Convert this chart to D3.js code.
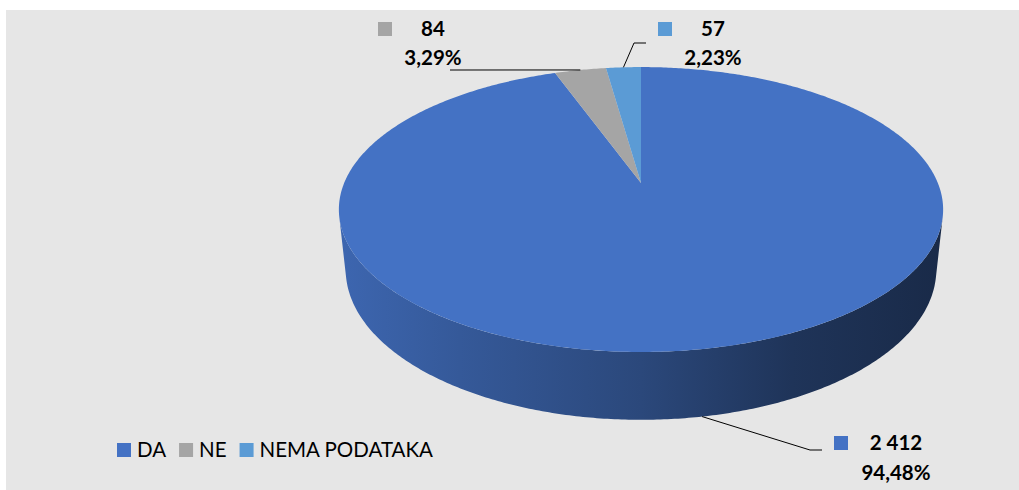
<!DOCTYPE html>
<html>
<head>
<meta charset="utf-8">
<script src="https://cdn.jsdelivr.net/npm/d3@7"></script>
<style>
  body { margin: 0; background: #fff; }
  svg { display: block; }
  text { font-family: Lato, "Open Sans", sans-serif; fill: #000; }
</style>
</head>
<body>
<div id="chart"></div>
<script>
//////////////////////////////
// DATA
//////////////////////////////

const categories = ["DA", "NE", "NEMA PODATAKA"]
const values = [2412, 84, 57]
const colors = ["#4472c4", "#a5a5a5", "#5b9bd5"]

//////////////////////////////
// LAYOUT
//////////////////////////////

const width = 1019
const height = 490

// 3D view of the pie (Excel style, with perspective)
const cx = 641, cy = 183
const focal = 1413, dist = 4.76, depth = 0.23
const tilt = 27.6 * Math.PI / 180

// label boxes, in data order
const labelLayout = [
	{ mid: 896, key: 834, y1: 450, y2: 480, bend: [[810, 450], [822, 450]] },
	{ mid: 433, key: 378, y1: 36, y2: 65, bend: [[450, 70]] },
	{ mid: 713, key: 658, y1: 36, y2: 65, bend: [[634, 43], [646, 43]] }
]

const svg = d3.select("#chart").append("svg")
	.attr("width", width).attr("height", height)

svg.append("rect")
	.attr("x", 6).attr("y", 10)
	.attr("width", width - 6).attr("height", height - 10)
	.attr("fill", "#e6e6e6")

// point on the pie: angle a (clockwise from 12 o'clock), radius r, level y (0 = top, -depth = bottom)
const project = (a, y, r = 1) => {
	let x = r * Math.sin(a), z = r * Math.cos(a)
	let v = y * Math.cos(tilt) + z * Math.sin(tilt)
	let w = dist + z * Math.cos(tilt) - y * Math.sin(tilt)
	return [cx + focal * x / w, cy - focal * v / w]
}

const arcPoints = (a0, a1, y) => {
	let n = Math.max(2, Math.ceil((a1 - a0) / 0.01))
	return d3.range(n + 1).map((i) => project(a0 + (a1 - a0) * i / n, y))
}

const line = d3.line()

const pie = d3.pie().sort(null).value((d) => d)(values)
const total = d3.sum(values)

// side wall is seen between the two tangent lines from the camera
const edge = Math.acos(-1 / (dist * Math.cos(tilt)))
const frontFrom = edge, frontTo = 2 * Math.PI - edge

const leftX = d3.min(arcPoints(0, 2 * Math.PI, 0), (p) => p[0])
const rightX = d3.max(arcPoints(0, 2 * Math.PI, 0), (p) => p[0])

const defs = svg.append("defs")
const shade = [[0, 0.3], [0.2, 0.7], [0.5, 1.3], [0.75, 2.2], [1, 2.8]]

pie.forEach((d, i) => {
	let g = defs.append("linearGradient")
		.attr("id", "side" + i)
		.attr("gradientUnits", "userSpaceOnUse")
		.attr("x1", leftX).attr("x2", rightX)
		.attr("y1", 0).attr("y2", 0)
	shade.forEach((s) => {
		g.append("stop")
			.attr("offset", s[0])
			.attr("stop-color", d3.color(colors[i]).darker(s[1]))
	})
})

// side walls
pie.forEach((d, i) => {
	let a0 = Math.max(d.startAngle, frontFrom)
	let a1 = Math.min(d.endAngle, frontTo)
	if (a1 <= a0) return
	let pts = arcPoints(a0, a1, 0).concat(arcPoints(a0, a1, -depth).reverse())
	svg.append("path")
		.attr("d", line(pts) + "Z")
		.attr("fill", "url(#side" + i + ")")
})

// top faces
const centre = project(0, 0, 0)
pie.forEach((d, i) => {
	let pts = [centre].concat(arcPoints(d.startAngle, d.endAngle, 0))
	svg.append("path")
		.attr("d", line(pts) + "Z")
		.attr("fill", colors[i])
})

//////////////////////////////
// DATA LABELS
//////////////////////////////

const fmtValue = d3.formatLocale({ decimal: ",", thousands: " ", grouping: [3], currency: ["", ""] }).format(",d")
const fmtPct = d3.formatLocale({ decimal: ",", thousands: ".", grouping: [3], currency: ["", ""] }).format(".2%")

pie.forEach((d, i) => {
	let L = labelLayout[i]
	let midA = (d.startAngle + d.endAngle) / 2
	let front = midA > frontFrom && midA < frontTo
	let anchor = project(midA, front ? -depth : 0)

	svg.append("path")
		.attr("d", line([anchor].concat(L.bend)))
		.attr("fill", "none")
		.attr("stroke", "#000")
		.attr("stroke-width", 1)

	svg.append("rect")
		.attr("x", L.key).attr("y", L.y1 - 14)
		.attr("width", 14).attr("height", 14)
		.attr("fill", colors[i])

	svg.append("text")
		.attr("x", L.mid).attr("y", L.y1)
		.attr("text-anchor", "middle")
		.attr("font-size", 20.5)
		.attr("font-weight", "bold")
		.text(fmtValue(d.data))

	svg.append("text")
		.attr("x", L.mid).attr("y", L.y2)
		.attr("text-anchor", "middle")
		.attr("font-size", 20.5)
		.attr("font-weight", "bold")
		.text(fmtPct(d.data / total))
})

//////////////////////////////
// LEGEND
//////////////////////////////

let lx = 117
const legendY = 457
categories.forEach((c, i) => {
	svg.append("rect")
		.attr("x", lx).attr("y", legendY - 14)
		.attr("width", 14).attr("height", 14)
		.attr("fill", colors[i])
	let t = svg.append("text")
		.attr("x", lx + 20).attr("y", legendY)
		.attr("font-size", 20.5)
		.text(c)
	lx += 20 + t.node().getComputedTextLength() + 13
})
</script>
</body>
</html>
